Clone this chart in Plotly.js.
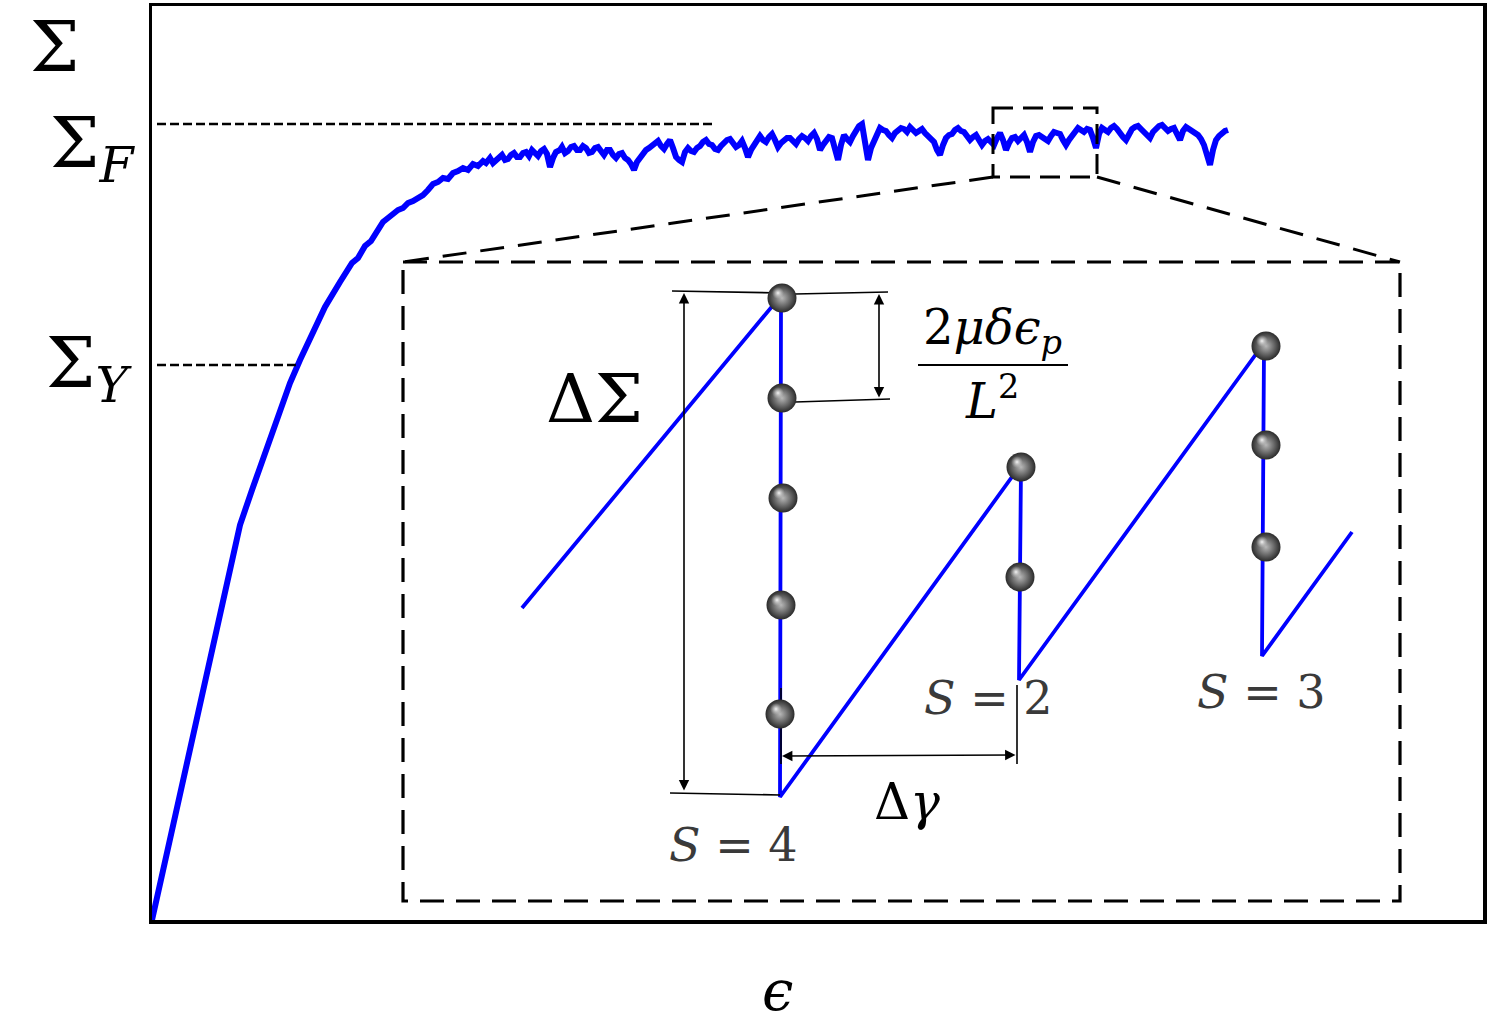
<!DOCTYPE html>
<html><head><meta charset="utf-8">
<script src="https://cdn.plot.ly/plotly-3.0.1.min.js"></script>
<style>html,body{margin:0;padding:0;background:#fff}</style>
</head><body><div id="chart" style="width:1492px;height:1023px"></div>
<script>
// ---- Data (schematic units: strain along x, stress along y, inverted y scale) ----
const loadStrain = [152,240,252,265,278,290,300,312,325,340,352,358,365,371,377,383,388,393,398,403,408,413,418,423,428,433,438,443,448,453,458,463,468,473,478,483,486];
const loadStress = [920,525,490,452,415,383,360,335,307,282,263,258,246,241,230,222,218,214,210,208,203,201,198,195,190,184,182,178,179,173,171,168,170,164,166,161,163];
const flowStrain = [490,493,496,499,502,505,508,511,514,517,520,523,526,529,532,535,538,541,544,547,550,553,556,560,562,565,568,571,574,577,580,583,586,589,592,595,598,601,604,607,610,613,616,619,622,625,628,631,634,637,640,643,646,649,652,655,658,661,664,667,670,673,676,679,682,685,688,691,694,697,700,703,706,709,712,715,718,721,724,727,730,733,736,739,742,745,748,751,754,757,760,763,766,769,772,775,778,781,784,787,790,793,796,799,802,805,808,811,814,817,820,823,826,829,832,835,838,841,844,847,850,853,856,859,862,865,868,871,874,877,880,883,886,889,892,895,898,901,904,907,910,913,916,919,922,925,928,931,934,937,940,943,946,949,952,955,958,961,964,967,970,973,976,979,982,985,988,991,994,997,1000,1003,1006,1009,1012,1015,1018,1021,1024,1027,1030,1033,1036,1039,1042,1045,1048,1051,1054,1057,1060,1063,1066,1069,1072,1075,1078,1081,1084,1087,1090,1093,1096,1099,1102,1105,1108,1111,1114,1117,1120,1123,1126,1129,1132,1135,1138,1141,1144,1147,1150,1153,1156,1159,1162,1165,1168,1171,1174,1177,1180,1183,1186,1189,1192,1195,1198,1201,1204,1207,1210,1213,1216,1219,1222,1225,1228];
const flowStress = [158,163,160,156,155,160,159,155,153,157,157,153,152,156,150,153,156,151,149,154,167,158,152,150,147,153,151,147,146,150,150,146,148,153,152,148,147,151,155,150,150,155,158,154,153,158,160,164,170,162,158,153,150,148,145,143,141,146,149,144,140,148,157,160,162,152,148,151,152,148,146,142,140,144,145,149,150,146,142,140,139,143,147,145,141,148,157,150,145,140,136,140,142,137,134,140,147,143,140,138,138,141,144,139,136,138,141,136,133,139,150,145,140,137,138,148,160,145,135,139,142,136,131,126,124,140,160,148,140,133,128,130,131,135,138,133,130,128,129,132,127,130,133,131,129,133,136,139,142,150,155,145,138,135,134,130,128,131,132,136,140,137,135,140,145,141,139,142,145,138,133,140,150,143,138,137,141,138,135,142,152,142,136,135,137,139,141,136,132,133,134,140,145,140,137,132,128,131,132,129,130,138,148,134,128,130,132,128,126,129,134,137,140,133,129,127,126,129,132,135,138,132,128,126,125,128,131,129,128,134,140,131,127,129,131,133,135,139,145,155,165,150,140,136,133,131,130];

// inset: avalanche sawtooth
const sawStrain = [522,779,781,780,1017,1021,1019,1259,1264,1262,1352];
const sawStress = [608,298,300,797,470,468,680,350,348,656,532];
// spheres (sliding events)
const ballStrain = [782,782,783,781,780,1021,1020,1266,1266,1266];
const ballStress = [298,398,498,605,714,467,577,346,445,547];

// reference levels
const sigmaF = 124, sigmaY = 365;

// ---- Layout geometry ----
const X0 = 152, X1 = 1483, Y0 = 920, Y1 = 6;
const px = v => (v - X0) / (X1 - X0);
const py = v => (Y0 - v) / (Y0 - Y1);
const serif = "DejaVu Serif";

const traces = [];
traces.push({x: loadStrain.concat(flowStrain), y: loadStress.concat(flowStress), mode: 'lines',
  line: {color: '#0000ff', width: 6}, hoverinfo: 'skip'});
traces.push({x: sawStrain, y: sawStress, mode: 'lines', line: {color: '#0000ff', width: 3.8}, hoverinfo: 'skip'});

// thin black guide lines
const guides = [
  [[672, 782], [291, 293]],
  [[795, 888], [294, 292]],
  [[795, 890], [402, 399]],
  [[670, 780], [793, 795]],
  [[781, 781], [688, 764]],
  [[1017, 1017], [685, 764]]
];
guides.forEach(g => traces.push({x: g[0], y: g[1], mode: 'lines', line: {color: '#000', width: 1.6}, hoverinfo: 'skip'}));
traces.push({x: [918, 1068], y: [365, 365], mode: 'lines', line: {color: '#000', width: 2}, hoverinfo: 'skip'});

// spheres
traces.push({x: ballStrain, y: ballStress, mode: 'markers', hoverinfo: 'skip',
  marker: {size: 29, color: '#2a2a2a', gradient: {type: 'radial', color: '#b8b8b8'}, line: {width: 0}}});
traces.push({x: ballStrain.map(v => v - 4), y: ballStress.map(v => v - 5), mode: 'markers', hoverinfo: 'skip',
  marker: {size: 12, color: 'rgba(200,200,200,0)', gradient: {type: 'radial', color: '#f4f4f4'}, line: {width: 0}}});

const shapes = [
  {type: 'line', x0: 157, x1: 712, y0: sigmaF, y1: sigmaF, line: {color: '#000', width: 2.5, dash: '9px,4px'}},
  {type: 'line', x0: 157, x1: 300, y0: sigmaY, y1: sigmaY, line: {color: '#000', width: 2.5, dash: '9px,4px'}},
  {type: 'rect', x0: 993, x1: 1097, y0: 108, y1: 177, line: {color: '#000', width: 3, dash: '20px,10px'}},
  {type: 'rect', x0: 403, x1: 1400, y0: 262, y1: 901, line: {color: '#000', width: 3.2, dash: '24px,12px'}},
  {type: 'line', x0: 993, x1: 403, y0: 177, y1: 262, line: {color: '#000', width: 3, dash: '24px,14px'}},
  {type: 'line', x0: 1097, x1: 1400, y0: 177, y1: 262, line: {color: '#000', width: 3, dash: '24px,14px'}}
];

const annotations = [];
function txt(x, y, text, size, color, paper) {
  annotations.push({x: paper ? px(x) : x, y: paper ? py(y) : y, xref: paper ? 'paper' : 'x', yref: paper ? 'paper' : 'y',
    text: text, showarrow: false, xanchor: 'center', yanchor: 'middle',
    font: {family: serif, size: size, color: color || '#000'}});
}
function arrow(x, y, ax, ay) {
  annotations.push({x: x, y: y, ax: ax, ay: ay, xref: 'x', yref: 'y', axref: 'x', ayref: 'y', text: '',
    showarrow: true, arrowhead: 2, startarrowhead: 2, arrowside: 'end+start', arrowsize: 1.3, startarrowsize: 1.3,
    arrowwidth: 1.6, arrowcolor: '#000', standoff: 0, startstandoff: 0});
}
txt(55, 47, 'Σ', 70, '#000', true);
txt(93, 148, 'Σ<sub><i>F</i></sub>', 70, '#000', true);
txt(89, 368, 'Σ<sub><i>Y</i></sub>', 70, '#000', true);
txt(777, 990, '<i>ϵ</i>', 56, '#000', true);
txt(594, 398, 'ΔΣ', 68);
txt(992, 330, '2<i>μδϵ</i><sub><i>p</i></sub>', 48);
txt(992, 398, '<i>L</i><sup>2</sup>', 48);
txt(907, 802, 'Δ<i>γ</i>', 50);
txt(733, 845, '<i>S</i> = 4', 46, '#3a3a3a');
txt(988, 698, '<i>S</i> = 2', 46, '#3a3a3a');
txt(1261, 692, '<i>S</i> = 3', 46, '#3a3a3a');
arrow(684, 293, 684, 792);
arrow(879, 294, 879, 399);
arrow(782, 756, 1017, 755);

const axisCommon = {showgrid: false, zeroline: false, showticklabels: false, ticks: '', showline: true,
  mirror: true, linecolor: '#000', linewidth: 3.5, fixedrange: true};
const layout = {
  width: 1492, height: 1023, margin: {l: X0, r: 1492 - X1, t: Y1, b: 1023 - Y0},
  paper_bgcolor: '#fff', plot_bgcolor: '#fff', showlegend: false,
  font: {family: serif},
  xaxis: Object.assign({range: [X0, X1]}, axisCommon),
  yaxis: Object.assign({range: [Y0, Y1]}, axisCommon),
  shapes: shapes, annotations: annotations
};
Plotly.newPlot('chart', traces, layout, {displayModeBar: false, staticPlot: true});
</script></body></html>
